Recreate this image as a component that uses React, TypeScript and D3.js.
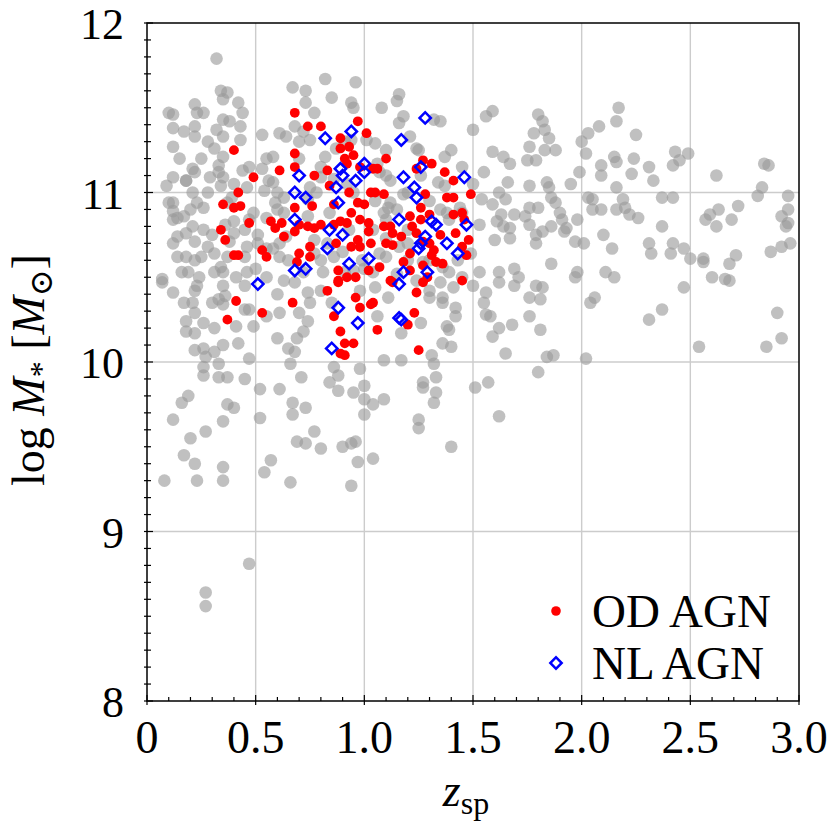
import React from "react";
import * as d3 from "d3";

// [z_sp, log M*]
const allGalaxies: [number, number][] = [
  [1.59,11.48],[1.80,11.46],[1.82,11.42],[1.78,11.35],[1.83,11.37],[1.85,11.32],[1.76,11.27],[1.83,11.25],[1.88,11.25],[1.59,11.24],
  [1.64,11.21],[1.67,11.17],[1.75,11.19],[1.79,11.19],[1.66,11.06],[1.62,11.00],[1.65,10.96],[1.76,11.04],[1.84,11.06],[1.85,11.03],
  [1.86,10.97],[1.88,10.94],[1.95,11.05],[1.99,11.12],[2.00,11.30],[2.03,11.35],[2.08,11.39],[2.17,11.50],[2.16,11.42],[2.25,11.34],
  [2.02,11.23],[2.09,11.16],[2.09,11.10],[2.15,11.21],[2.16,11.18],[2.24,11.20],[2.31,11.15],[2.33,11.07],[2.23,11.11],[2.43,11.24],
  [2.42,11.16],[2.45,11.19],[2.49,11.23],[2.62,11.10],[2.84,11.17],[2.86,11.16],[2.83,11.03],[2.81,10.98],[2.95,10.98],[2.16,11.03],
  [2.19,10.96],[2.16,10.90],[2.20,10.91],[2.22,10.87],[2.26,10.85],[2.03,10.97],[2.05,10.96],[2.05,10.90],[2.09,10.90],[2.37,10.97],
  [2.42,10.97],[2.37,10.80],[2.31,10.70],[2.32,10.64],[2.42,10.70],[2.41,10.64],[2.47,10.67],[2.50,10.61],[2.56,10.61],[2.56,10.59],
  [2.57,10.84],[2.59,10.87],[2.63,10.90],[2.62,10.80],[2.69,10.84],[2.72,10.92],[2.71,10.63],[2.68,10.58],[2.60,10.50],[2.66,10.49],
  [2.68,10.48],[2.47,10.44],[2.37,10.31],[2.31,10.25],[2.90,10.29],[2.87,10.65],[2.92,10.68],[2.96,10.70],[2.95,10.90],[2.92,10.86],
  [2.95,10.82],[2.94,10.80],[2.10,10.75],[2.14,10.67],[2.11,10.53],[2.15,10.50],[2.06,10.38],[2.04,10.35],[1.98,10.53],[1.97,10.50],
  [1.97,10.71],[2.01,10.70],[1.98,10.84],[1.76,10.91],[1.80,10.91],[1.74,10.86],[1.76,10.81],[1.69,10.87],[1.63,10.87],[1.61,10.83],
  [1.64,10.80],[1.67,10.79],[1.60,10.72],[1.67,10.73],[1.79,10.75],[1.79,10.70],[1.82,10.77],[1.86,10.80],[1.90,10.88],[1.91,10.84],
  [1.93,10.79],[1.92,10.77],[1.86,10.58],[1.62,10.53],[1.62,10.47],[1.69,10.55],[1.71,10.50],[1.69,10.45],[1.79,10.45],[1.82,10.44],
  [1.76,10.38],[1.81,10.37],[1.76,10.27],[1.68,10.22],[1.62,10.20],[1.81,10.19],[1.59,10.15],[1.65,10.05],[1.84,10.03],[1.87,10.04],
  [1.80,9.94],[2.02,10.02],[2.54,10.09],[2.92,10.14],[2.85,10.09],[1.58,10.27],
  [1.36,10.35],[1.42,10.32],[1.42,10.27],[1.38,10.21],[1.39,10.19],[1.36,10.11],[1.40,10.09],[1.31,10.04],[1.32,9.99],[1.26,10.23],
  [1.17,10.17],[1.06,10.27],[1.09,10.01],[1.17,10.01],[1.33,9.91],[1.27,9.88],[1.27,9.85],[1.33,9.82],[1.32,9.76],[1.09,9.78],
  [1.04,9.75],[1.25,9.66],[1.25,9.61],[1.40,9.50],[1.04,9.43],[1.55,10.35],[1.56,10.28],[1.51,9.85],[1.57,9.88],[1.62,9.68],
  [0.07,10.47],[0.12,10.41],[0.17,10.35],[0.22,10.42],[0.23,10.45],[0.21,10.35],[0.22,10.29],[0.18,10.24],[0.18,10.18],[0.22,10.17],
  [0.26,10.23],[0.30,10.35],[0.33,10.37],[0.36,10.39],[0.35,10.34],[0.41,10.21],[0.31,10.20],[0.22,10.07],[0.26,10.08],[0.31,10.06],
  [0.35,10.10],[0.42,10.11],[0.27,10.03],[0.26,9.97],[0.26,9.92],[0.33,9.99],[0.33,9.91],[0.37,9.91],[0.45,9.90],[0.47,10.02],
  [0.49,10.21],[0.45,10.31],[0.47,10.31],[0.55,10.27],[0.60,10.14],[0.61,10.29],[0.65,10.08],[0.68,10.06],[0.66,9.99],[0.69,10.14],
  [0.72,10.18],[0.74,10.24],[0.70,10.29],[0.74,10.41],[0.71,9.91],[0.52,9.84],[0.61,9.84],[0.84,9.88],[0.88,9.83],[0.86,9.97],
  [0.88,9.92],[0.98,9.96],[0.95,9.82],[1.00,9.86],[1.00,9.78],[1.00,9.69],[0.19,9.80],[0.16,9.76],[0.12,9.66],[0.37,9.75],
  [0.40,9.73],[0.35,9.65],[0.52,9.67],[0.67,9.76],[0.67,9.69],[0.73,9.73],[0.77,9.59],[0.69,9.53],[0.73,9.52],[0.80,9.49],
  [0.90,9.50],[0.94,9.52],[0.96,9.53],[0.20,9.55],[0.27,9.59],[0.17,9.45],[0.22,9.40],[0.35,9.38],[0.57,9.42],[0.54,9.35],
  [0.97,9.41],[0.08,9.30],[0.23,9.30],[0.35,9.30],[0.66,9.29],[0.94,9.27],[0.47,8.81],[0.27,8.64],[0.27,8.56],
  [0.32,11.79],[0.34,11.60],[0.37,11.59],[0.35,11.55],[0.42,11.53],[0.44,11.47],[0.35,11.43],[0.43,11.39],[0.32,11.37],[0.35,11.33],
  [0.43,11.31],[0.22,11.52],[0.23,11.47],[0.26,11.47],[0.12,11.46],[0.12,11.38],[0.17,11.36],[0.22,11.33],[0.22,11.39],[0.12,11.27],
  [0.31,11.26],[0.35,11.21],[0.33,11.16],[0.33,11.12],[0.21,11.14],[0.22,11.12],[0.12,11.09],[0.09,11.04],[0.18,11.07],[0.29,11.09],
  [0.35,11.09],[0.34,11.04],[0.21,11.00],[0.12,10.94],[0.12,10.84],[0.12,10.89],[0.17,10.86],[0.23,10.94],[0.26,10.91],[0.21,10.80],
  [0.26,10.78],[0.18,10.76],[0.22,10.71],[0.12,10.70],[0.14,10.62],[0.18,10.62],[0.22,10.60],[0.28,10.68],[0.31,10.64],[0.34,10.56],
  [0.37,10.62],[0.07,10.49],[0.16,10.53],[0.19,10.53],[0.24,10.50],[0.31,10.53],[0.35,10.53],[0.41,10.50],[0.46,10.53],[0.46,11.03],
  [0.47,11.15],[0.37,10.94],[0.39,10.97],[0.44,11.13],[0.53,11.34],[0.61,11.35],[0.64,11.33],[0.67,11.62],[0.73,11.60],[0.73,11.53],
  [0.77,11.47],[0.82,11.67],[0.85,11.56],[0.96,11.65],[0.94,11.53],[0.95,11.50],[0.68,11.39],[0.72,11.36],[0.75,11.31],[0.70,11.30],
  [0.55,11.20],[0.58,11.21],[0.53,11.14],[0.56,11.07],[0.58,11.06],[0.54,11.01],[0.59,10.94],[0.63,10.97],[0.49,10.88],[0.47,10.84],
  [0.45,10.78],[0.51,10.75],[0.51,10.70],[0.55,10.67],[0.58,10.67],[0.61,10.62],[0.61,10.70],[0.64,10.74],[0.46,10.68],[0.45,10.62],
  [0.38,10.71],[0.40,10.76],[0.36,10.81],[0.40,10.83],[0.74,10.96],[0.78,11.00],[0.75,11.03],[0.80,11.09],[0.82,11.21],[0.87,11.26],
  [0.91,11.30],[0.94,11.31],[1.01,11.31],[1.06,11.17],[0.74,10.86],[0.77,10.72],[0.77,10.64],[0.83,10.70],[0.86,10.62],[0.81,10.53],
  [0.63,10.48],[0.68,10.47],[0.72,10.53],[0.91,10.53],[0.95,10.54],[0.10,11.47],[0.18,11.07],[0.10,10.94],[0.14,10.85],[0.14,10.74],
  [1.16,11.58],[1.15,11.54],[1.08,11.50],[1.18,11.45],[1.16,11.41],[1.35,11.42],[1.32,11.43],[1.21,11.33],[1.24,11.26],[1.05,11.29],
  [1.10,11.25],[1.37,11.21],[1.50,11.37],[1.56,11.45],[1.55,11.12],[1.07,11.12],[1.12,11.07],[1.18,10.99],[1.26,11.10],[1.34,11.06],
  [1.37,11.04],[1.54,10.96],[1.59,10.93],[1.53,10.81],[1.53,10.53],[1.56,10.41],[1.41,10.44],[1.36,10.38],[1.30,10.38],[1.05,10.44],
  [1.11,10.38],[1.11,10.91],[1.09,10.88],[1.10,10.84],[1.04,10.78],[1.44,10.91],[1.38,10.88],[1.39,10.84],[1.45,10.88],[1.43,10.60],
  [1.36,10.56],[1.39,10.53],[1.35,10.47],[1.27,10.59],[1.20,10.60],[1.16,10.68],[1.10,10.73],[1.07,10.64],[1.04,10.53],[1.24,10.48],
  [1.49,10.64],[0.84,10.88],[0.93,10.78],[1.12,10.94],[1.20,10.78],[0.99,10.60],[0.63,10.88],[0.92,11.05],[1.15,10.52],[0.80,10.42],
  [0.80,11.15],[0.86,11.08],[0.95,11.00],[1.05,10.95],[1.15,10.90],[1.20,11.00],[1.30,10.95],[1.35,10.90],[0.60,10.90],[0.55,10.85],
  [0.65,10.60],[0.80,10.60],[0.90,10.65],[1.00,10.55],[1.10,10.62],[1.20,10.70],[1.30,10.60],[0.60,11.00],[0.70,11.20],[1.10,11.10],
  [1.25,11.25],[0.50,10.55],[0.45,10.45],[0.35,10.45],[0.25,10.62],[0.30,10.75],[0.20,10.90],[0.28,11.00],[0.40,11.05],[0.25,11.20],
  [0.15,11.20],[0.28,11.30],[0.38,11.42],[1.40,11.25],[1.45,11.15],[1.50,11.05],[1.45,10.50],[1.50,10.45],[1.30,10.42],[0.98,10.42],
  [0.85,10.35],[0.75,10.35],[0.60,10.40],[0.55,10.50]
];

const odAgn: [number, number][] = [
  [0.68,11.47],[0.74,11.39],[0.80,11.39],[0.97,11.42],[1.01,11.35],[0.40,11.25],[0.68,11.23],[0.89,11.32],[0.89,11.26],[0.93,11.27],
  [0.95,11.22],[0.91,11.20],[0.61,11.13],[0.68,11.15],[0.77,11.10],[0.83,11.13],[0.92,11.17],[0.98,11.15],[1.04,11.14],[0.49,11.09],
  [0.42,11.00],[0.35,10.93],[0.40,10.91],[0.43,10.92],[0.68,10.91],[0.76,10.92],[0.84,11.04],[0.86,10.93],[0.93,11.00],[0.97,10.94],
  [1.00,10.93],[1.03,11.00],[0.94,10.88],[0.89,10.83],[0.92,10.82],[0.98,10.84],[1.02,10.82],[1.02,10.77],[0.97,10.72],[0.94,10.68],
  [0.98,10.68],[1.03,10.70],[0.47,10.82],[0.57,10.83],[0.59,10.79],[0.62,10.82],[0.63,10.74],[0.68,10.77],[0.70,10.81],[0.74,10.80],
  [0.77,10.79],[0.80,10.81],[0.86,10.81],[0.34,10.78],[0.36,10.72],[0.40,10.63],[0.42,10.63],[0.53,10.66],[0.55,10.62],[0.70,10.64],
  [0.75,10.68],[0.75,10.62],[0.69,10.59],[0.87,10.70],[0.88,10.54],[0.92,10.50],[0.96,10.50],[1.02,10.54],[0.88,10.48],
  [1.10,11.20],[1.06,11.14],[1.24,11.14],[1.27,11.19],[1.31,11.17],[1.37,11.12],[1.41,11.07],[1.28,10.99],[1.38,10.97],[1.41,10.97],
  [1.49,10.99],[1.05,11.00],[1.09,10.99],[1.26,10.91],[1.21,10.86],[1.26,10.84],[1.30,10.87],[1.35,10.75],[1.41,10.87],[1.45,10.88],
  [1.46,10.84],[1.42,10.76],[1.48,10.72],[1.45,10.68],[1.47,10.63],[1.09,10.80],[1.12,10.80],[1.13,10.76],[1.10,10.70],[1.13,10.69],
  [1.17,10.74],[1.22,10.80],[1.24,10.76],[1.27,10.71],[1.30,10.70],[1.32,10.66],[1.31,10.63],[1.21,10.64],[1.18,10.59],[1.33,10.59],
  [1.36,10.58],[1.27,10.57],[1.29,10.50],[1.27,10.47],[1.24,10.41],[1.21,10.54],[1.12,10.48],[1.13,10.47],[1.45,10.48],[1.04,10.35],
  [1.07,10.56],
  [0.41,10.36],[0.53,10.29],[0.37,10.25],[0.67,10.35],[0.83,10.42],[0.88,10.47],[0.96,10.38],[0.98,10.32],[1.03,10.34],[0.86,10.27],
  [0.89,10.18],[0.91,10.11],[0.95,10.11],[0.89,10.05],[0.91,10.04],[1.06,10.19],[1.23,10.29],[1.20,10.22],[1.25,10.07]
];

const nlAgn: [number, number][] = [
  [0.82,11.32],[0.94,11.36],[0.70,11.10],[0.89,11.14],[0.90,11.10],[0.96,11.07],[1.00,11.17],[1.00,11.12],[0.68,11.00],[0.73,10.97],
  [0.87,11.03],[0.88,10.94],[0.68,10.84],[0.84,10.78],[0.90,10.75],[0.83,10.67],[0.68,10.54],[0.73,10.55],[0.93,10.58],[1.02,10.61],
  [0.51,10.46],[1.28,11.44],[1.17,11.31],[1.26,11.15],[1.18,11.09],[1.46,11.09],[1.23,11.03],[1.24,10.97],[1.16,10.84],[1.31,10.83],
  [1.33,10.81],[1.47,10.81],[1.28,10.74],[1.26,10.70],[1.25,10.67],[1.38,10.70],[1.43,10.64],[1.18,10.53],[1.29,10.53],[1.16,10.46],
  [0.88,10.32],[0.97,10.23],[0.85,10.08],[1.16,10.26],[1.17,10.25]
];

const xTickValues = [0, 0.5, 1.0, 1.5, 2.0, 2.5, 3.0];
const xTickLabels = ["0", "0.5", "1.0", "1.5", "2.0", "2.5", "3.0"];
const yTickValues = [8, 9, 10, 11, 12];
const yTickLabels = ["8", "9", "10", "11", "12"];
const legendLabels = ["OD AGN", "NL AGN"];

const W = 831;
const H = 823;
const L = 147, R = 799, T = 23, B = 701;
const FONT = "'Liberation Serif', 'DejaVu Serif', serif";

export default function App() {
  const x = d3.scaleLinear().domain([0, 3]).range([L, R]);
  const y = d3.scaleLinear().domain([8, 12]).range([B, T]);
  const minorX = d3.range(0, 3.0001, 0.1);
  const minorY = d3.range(8, 12.0001, 0.1);
  const diamond = d3.symbol().type(d3.symbolSquare).size(64)() as string;

  return (
    <svg width={W} height={H} style={{ position: "absolute", left: 0, top: 0, background: "#fff" }}>
      {/* grid */}
      {xTickValues.slice(1, -1).map((v) => (
        <line key={"gx" + v} x1={x(v)} x2={x(v)} y1={T} y2={B} stroke="#cccccc" strokeWidth={1.4} />
      ))}
      {yTickValues.slice(1, -1).map((v) => (
        <line key={"gy" + v} x1={L} x2={R} y1={y(v)} y2={y(v)} stroke="#cccccc" strokeWidth={1.4} />
      ))}
      {/* all galaxies */}
      <g>
        {allGalaxies.map((d, i) => (
          <circle key={"g" + i} cx={x(d[0])} cy={y(d[1])} r={6.3} fill="#9a9a9a" fillOpacity={0.62} />
        ))}
      </g>
      {/* OD AGN */}
      <g>
        {odAgn.map((d, i) => (
          <circle key={"r" + i} cx={x(d[0])} cy={y(d[1])} r={4.9} fill="#ff0000" />
        ))}
      </g>
      {/* NL AGN */}
      <g>
        {nlAgn.map((d, i) => (
          <path key={"b" + i} d={diamond} transform={`translate(${x(d[0])},${y(d[1])}) rotate(45)`}
            fill="none" stroke="#0000ff" strokeWidth={2.5} />
        ))}
      </g>
      {/* frame */}
      <rect x={L} y={T} width={R - L} height={B - T} fill="none" stroke="#000" strokeWidth={1.5} />
      {/* minor ticks */}
      {minorX.map((v, i) => (
        <line key={"mx" + i} x1={x(v)} x2={x(v)} y1={B} y2={B - (i % 5 === 0 ? 6 : 4)} stroke="#000" strokeWidth={1.2} />
      ))}
      {xTickValues.map((v) => (
        <line key={"tx" + v} x1={x(v)} x2={x(v)} y1={B} y2={B + 4} stroke="#000" strokeWidth={1.2} />
      ))}
      {minorY.map((v, i) => (
        <line key={"my" + i} x1={L - 3} x2={L + (i % 10 === 0 ? 6 : 4)} y1={y(v)} y2={y(v)} stroke="#000" strokeWidth={1.2} />
      ))}
      {/* tick labels */}
      {xTickValues.map((v, i) => (
        <text key={"lx" + v} x={x(v)} y={753} textAnchor="middle" fontFamily={FONT} fontSize={46} fill="#000">
          {xTickLabels[i]}
        </text>
      ))}
      {yTickValues.map((v, i) => (
        <text key={"ly" + v} x={124} y={y(v) + 16} textAnchor="end" fontFamily={FONT} fontSize={44} fill="#000">
          {yTickLabels[i]}
        </text>
      ))}
      {/* axis labels */}
      <text x={466} y={806} textAnchor="middle" fontFamily={FONT} fontSize={46} fill="#000">
        <tspan fontStyle="italic">z</tspan>
        <tspan fontSize={32} dy={8}>sp</tspan>
      </text>
      <text transform="translate(44,370) rotate(-90)" textAnchor="middle" fontFamily={FONT} fontSize={46} fill="#000">
        <tspan>log </tspan>
        <tspan fontStyle="italic">M</tspan>
        <tspan fontSize={32} dy={8}>*</tspan>
        <tspan dy={-8}> [</tspan>
        <tspan fontStyle="italic">M</tspan>
        <tspan fontSize={32} dy={8}>⊙</tspan>
        <tspan dy={-8}>]</tspan>
      </text>
      {/* legend */}
      <circle cx={556} cy={611} r={4.8} fill="#ff0000" />
      <text x={592} y={627} fontFamily={FONT} fontSize={47} fill="#000">{legendLabels[0]}</text>
      <path d={diamond} transform="translate(556,663) rotate(45)" fill="none" stroke="#0000ff" strokeWidth={2.5} />
      <text x={592} y={679} fontFamily={FONT} fontSize={47} fill="#000">{legendLabels[1]}</text>
    </svg>
  );
}
